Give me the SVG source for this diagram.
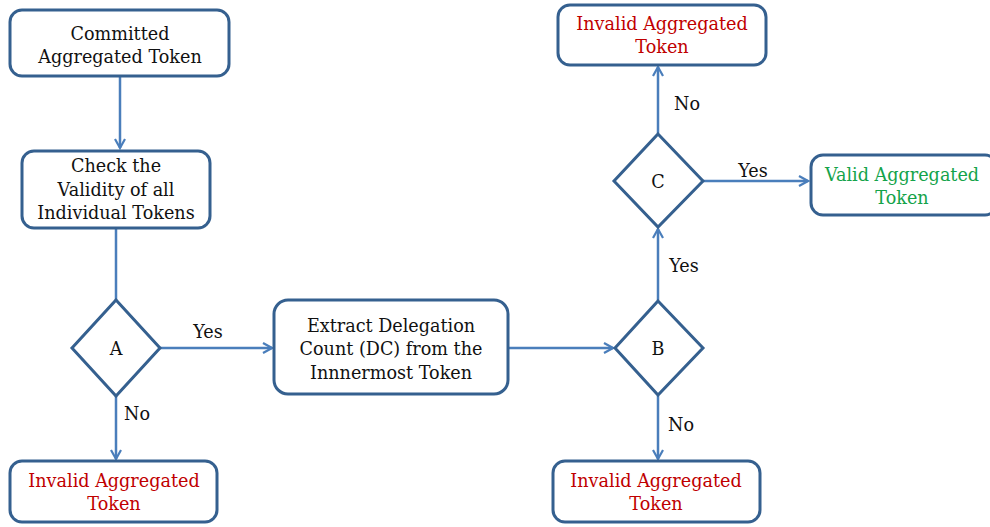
<svg xmlns="http://www.w3.org/2000/svg" width="990" height="527" viewBox="0 0 990 527" font-family="DejaVu Serif, serif" font-size="17.6">
  <style>
    .box { fill: #ffffff; stroke: #35608f; stroke-width: 3; }
    .dia { fill: #ffffff; stroke: #35608f; stroke-width: 3; stroke-linejoin: miter; }
    .edge { fill: none; stroke: #4a7ebb; stroke-width: 2.5; }
    .t { text-anchor: middle; fill: #111111; }
    .red { fill: #c00000; }
    .green { fill: #14a34a; }
  </style>
  <defs>
    <marker id="arrow" viewBox="0 0 12 12" refX="10" refY="6" markerWidth="12" markerHeight="12" markerUnits="userSpaceOnUse" orient="auto">
      <path d="M1,1 L10,6 L1,11" fill="none" stroke="#4a7ebb" stroke-width="2.2"/>
    </marker>
  </defs>

  <rect width="990" height="527" fill="#ffffff"/>

  <!-- connectors -->
  <g id="connectors">
    <path class="edge" d="M120,76 V148" marker-end="url(#arrow)"/>
    <path class="edge" d="M116,228 V300"/>
    <path class="edge" d="M160,348 H272" marker-end="url(#arrow)"/>
    <path class="edge" d="M116,396 V459" marker-end="url(#arrow)"/>
    <path class="edge" d="M508,348 H613" marker-end="url(#arrow)"/>
    <path class="edge" d="M658,396 V459" marker-end="url(#arrow)"/>
    <path class="edge" d="M658,300 V229" marker-end="url(#arrow)"/>
    <path class="edge" d="M658,133 V67" marker-end="url(#arrow)"/>
    <path class="edge" d="M703,181 H808" marker-end="url(#arrow)"/>
    <text class="t" x="208" y="338">Yes</text>
    <text class="t" x="137" y="420">No</text>
    <text class="t" x="681" y="431">No</text>
    <text class="t" x="684" y="272">Yes</text>
    <text class="t" x="687" y="110">No</text>
    <text class="t" x="753" y="177">Yes</text>
  </g>

  <g id="committed">
    <rect class="box" x="10" y="10" width="219" height="66" rx="12"/>
    <text class="t" x="120" y="40">Committed</text>
    <text class="t" x="120" y="63">Aggregated Token</text>
  </g>

  <g id="check">
    <rect class="box" x="22" y="151" width="188" height="77" rx="12"/>
    <text class="t" x="116" y="172">Check the</text>
    <text class="t" x="116" y="196">Validity of all</text>
    <text class="t" x="116" y="219">Individual Tokens</text>
  </g>

  <g id="decision-a">
    <polygon class="dia" points="116,300 160,348 116,396 72,348"/>
    <text class="t" x="116" y="355">A</text>
  </g>

  <g id="invalid-a">
    <rect class="box" x="10" y="461" width="207" height="61" rx="12"/>
    <text class="t red" x="114" y="487">Invalid Aggregated</text>
    <text class="t red" x="114" y="510">Token</text>
  </g>

  <g id="extract">
    <rect class="box" x="274" y="300" width="234" height="94" rx="14"/>
    <text class="t" x="391" y="332">Extract Delegation</text>
    <text class="t" x="391" y="355">Count (DC) from the</text>
    <text class="t" x="391" y="379">Innnermost Token</text>
  </g>

  <g id="decision-b">
    <polygon class="dia" points="658,301 703,348 658,395 615,348"/>
    <text class="t" x="658" y="355">B</text>
  </g>

  <g id="invalid-b">
    <rect class="box" x="553" y="461" width="207" height="61" rx="12"/>
    <text class="t red" x="656" y="487">Invalid Aggregated</text>
    <text class="t red" x="656" y="510">Token</text>
  </g>

  <g id="decision-c">
    <polygon class="dia" points="658,134 703,181 658,227 614,181"/>
    <text class="t" x="658" y="188">C</text>
  </g>

  <g id="invalid-c">
    <rect class="box" x="558" y="5" width="208" height="60" rx="12"/>
    <text class="t red" x="662" y="30">Invalid Aggregated</text>
    <text class="t red" x="662" y="53">Token</text>
  </g>

  <g id="valid">
    <rect class="box" x="811" y="155" width="186" height="60" rx="12"/>
    <text class="t green" x="902" y="181">Valid Aggregated</text>
    <text class="t green" x="902" y="204">Token</text>
  </g>
</svg>
